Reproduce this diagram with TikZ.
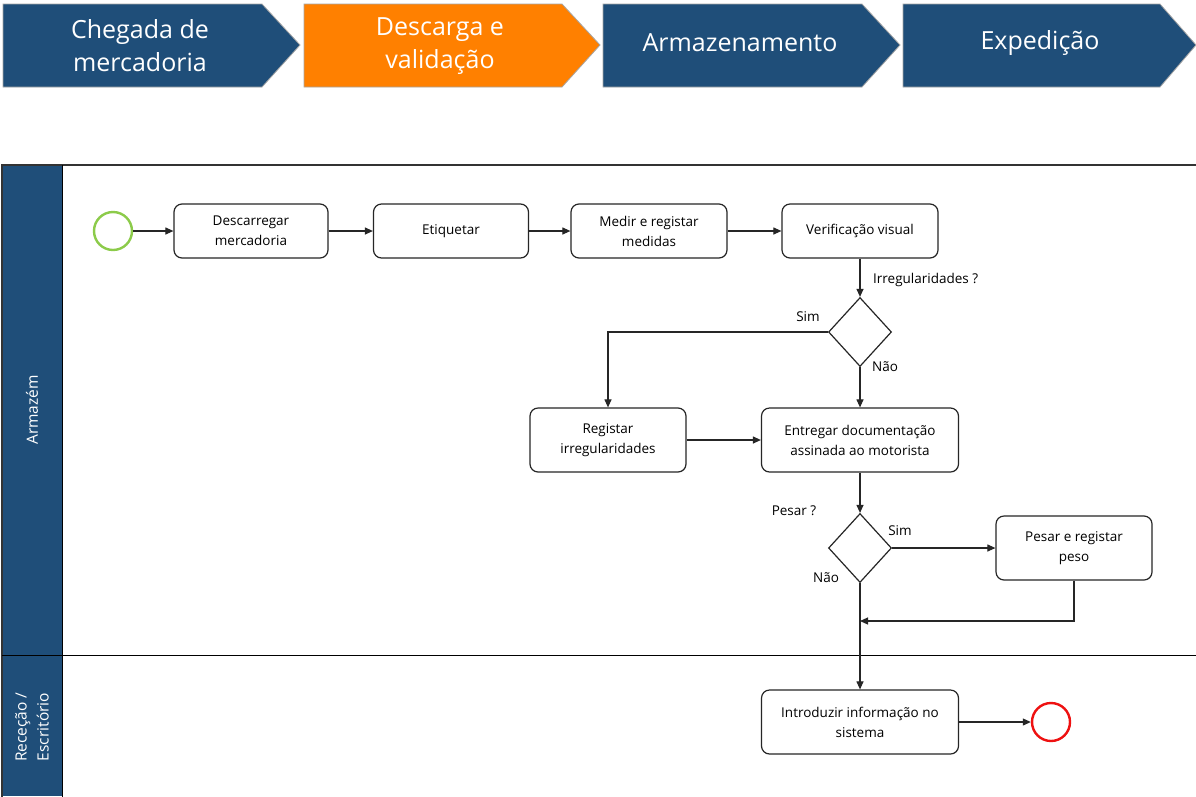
\documentclass[tikz,border=0pt]{standalone}
\usepackage{fontspec}
\setmainfont{Open Sans}
\usetikzlibrary{arrows.meta,shapes.geometric}
\definecolor{navy}{HTML}{1F4E79}
\definecolor{stageorange}{HTML}{FF8000}
\definecolor{startgreen}{HTML}{8CCB4A}
\definecolor{endred}{HTML}{EE1111}
\tikzset{
  stage/.style={fill=#1, draw=gray!70, line width=0.8pt},
  stagetext/.style={text=white, font=\fontsize{25}{33}\selectfont, align=center},
  task/.style={draw=black!85, rounded corners=8pt, line width=1.2pt, fill=white,
    align=center, font=\fontsize{13.5}{20}\selectfont, inner sep=0pt},
  gate/.style={draw=black!85, diamond, line width=1.2pt, fill=white, inner sep=0pt,
    minimum width=63pt, minimum height=69pt},
  event/.style={circle, line width=2.4pt, minimum size=38pt, inner sep=0pt, fill=white},
  flow/.style={line width=1.1pt, draw=black!85, -{Triangle[length=8pt,width=7pt]}},
  lbl/.style={font=\fontsize{13.5}{16}\selectfont, inner sep=0pt},
  lanetext/.style={text=white, font=\fontsize{15.5}{22}\selectfont, align=center, rotate=90}
}
\begin{document}
\begin{tikzpicture}[x=1pt,y=-1pt]
\useasboundingbox (0,0) rectangle (1196,796);
\fill[white] (0,0) rectangle (1196,796);

% stage chevrons
\path[stage=navy] (3,4) -- (262,4) -- (300,45) -- (262,87) -- (3,87) -- cycle;
\path[stage=stageorange] (304,4) -- (562,4) -- (600,45) -- (562,87) -- (304,87) -- cycle;
\path[stage=navy] (603,4) -- (862,4) -- (900,45) -- (862,87) -- (603,87) -- cycle;
\path[stage=navy] (903,4) -- (1160,4) -- (1196,45) -- (1160,87) -- (903,87) -- cycle;
\node[stagetext] (s1) at (140,46) {Chegada de\\mercadoria};
\node[stagetext] (s2) at (440,46) {Descarga e\\validação};
\node[stagetext] (s3) at (740,43) {Armazenamento};
\node[stagetext] (s4) at (1040,43) {Expedição};

% pool and lanes
\fill[navy] (2,165) rectangle (62,796);
\draw[black!80, line width=1.2pt] (1197,165) -- (2,165) -- (2,797);
\draw[black, line width=1pt] (62,165) -- (62,797);
\draw[black, line width=1pt] (2,655) -- (1197,655);
\node[lanetext] (l1) at (32,410) {Armazém};
\node[lanetext] (l2) at (32,727) {Receção /\\Escritório};

% elements
\node[event, draw=startgreen] (start) at (113,231) {};
\node[task, minimum width=154pt, minimum height=54pt] (t1) at (251,231) {Descarregar\\mercadoria};
\node[task, minimum width=155pt, minimum height=54pt] (t2) at (451,231) {Etiquetar};
\node[task, minimum width=156pt, minimum height=54pt] (t3) at (649,231) {Medir e registar\\medidas};
\node[task, minimum width=156pt, minimum height=54pt] (t4) at (860,231) {Verificação visual};
\node[gate] (g1) at (860,332) {};
\node[task, minimum width=156pt, minimum height=64pt] (t5) at (608,440) {Registar\\irregularidades};
\node[task, minimum width=197pt, minimum height=64pt] (t6) at (860,440) {Entregar documentação\\assinada ao motorista};
\node[gate] (g2) at (860,548) {};
\node[task, minimum width=156pt, minimum height=64pt] (t7) at (1074,548) {Pesar e registar\\peso};
\coordinate (m) at (860,621);
\node[task, minimum width=197pt, minimum height=64pt] (t8) at (860,722) {Introduzir informação no\\sistema};
\node[event, draw=endred] (end) at (1051,722) {};

% sequence flows
\draw[flow] (start) -- (t1);
\draw[flow] (t1) -- (t2);
\draw[flow] (t2) -- (t3);
\draw[flow] (t3) -- (t4);
\draw[flow] (t4) -- (g1);
\draw[flow] (g1.west) -| (t5.north);
\draw[flow] (g1.south) -- (t6.north);
\draw[flow] (t5) -- (t6);
\draw[flow] (t6) -- (g2);
\draw[flow] (g2.east) -- (t7.west);
\draw[flow] (t7.south) |- (m);
\draw[flow] (g2.south) -- (t8.north);
\draw[flow] (t8) -- (end);

% gateway labels
\node[lbl, anchor=west] (q1) at (873,280) {Irregularidades ?};
\node[lbl] (y1) at (808,317) {Sim};
\node[lbl] (n1) at (885,367) {Não};
\node[lbl] (q2) at (794,511) {Pesar ?};
\node[lbl] (y2) at (900,531) {Sim};
\node[lbl] (n2) at (826,578) {Não};
\end{tikzpicture}
\end{document}
